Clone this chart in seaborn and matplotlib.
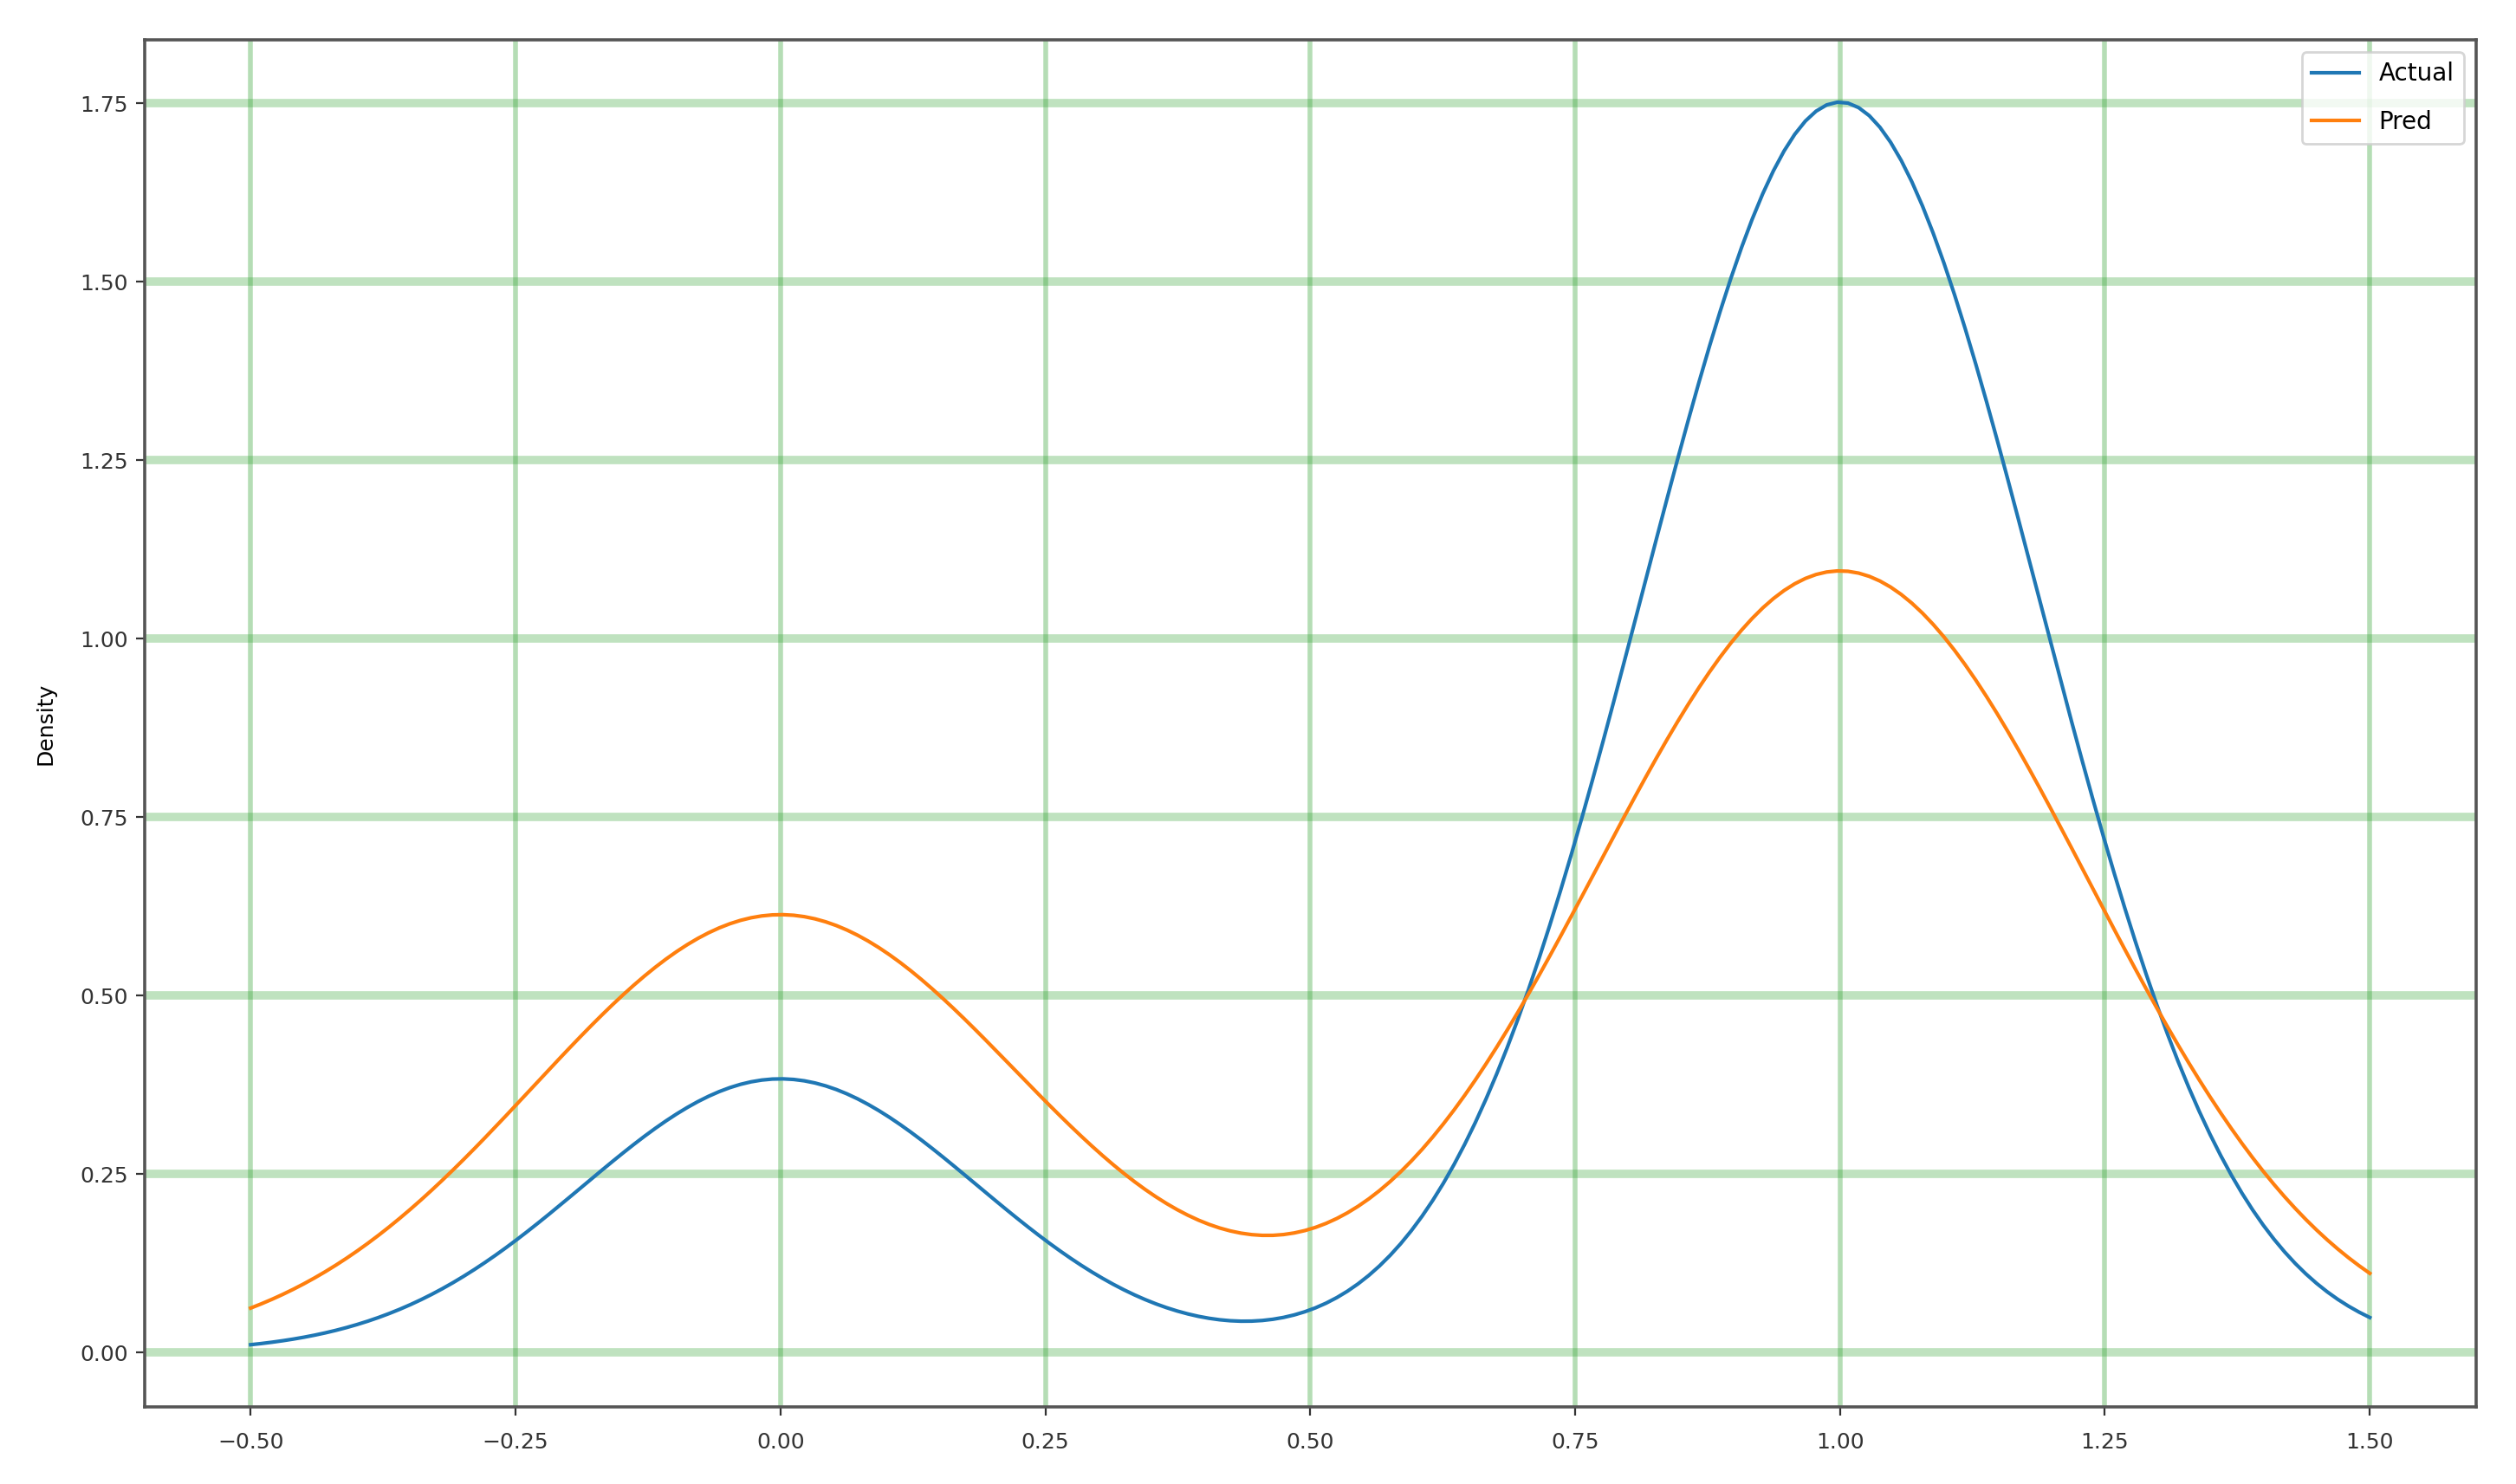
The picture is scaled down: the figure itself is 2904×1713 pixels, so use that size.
import numpy as np
import pandas as pd
import matplotlib
matplotlib.use("Agg")
import matplotlib.pyplot as plt
import seaborn as sns

# class values and how many of each
values = [0, 1]
actual_counts = [7, 32]
pred_counts = [14, 25]

actual = np.repeat(values, actual_counts)
pred = np.repeat(values, pred_counts)

fig, ax = plt.subplots(figsize=(14.52, 8.565), dpi=200)

sns.kdeplot(x=actual, ax=ax, label="Actual", clip=(-0.5, 1.5), lw=1.5)
sns.kdeplot(x=pred, ax=ax, label="Pred", clip=(-0.5, 1.5), lw=1.5)

# seaborn pins the y axis at 0, the original uses plain margins
for line in ax.lines:
    line.sticky_edges.y[:] = []
ax.relim()
ax.autoscale_view()

# green grid like the original
ax.yaxis.grid(True, color="tab:green", alpha=0.3, lw=3.5)
ax.xaxis.grid(True, color="tab:green", alpha=0.35, lw=2)
ax.set_axisbelow(True)

ax.set_xticks(np.arange(-0.5, 1.51, 0.25))
ax.set_yticks(np.arange(0, 1.76, 0.25))
ax.set_xlabel("")
ax.set_ylabel("Density", fontsize=9, labelpad=10)
ax.tick_params(labelsize=9, colors="#333")
ax.tick_params(axis="x", pad=7)
for s in ax.spines.values():
    s.set_color("#555")
    s.set_linewidth(1.3)

ax.legend(loc="upper right", fontsize=10, labelspacing=1.0)

plt.subplots_adjust(left=0.0575, right=0.984, top=0.973, bottom=0.052)
plt.savefig("out.png")
